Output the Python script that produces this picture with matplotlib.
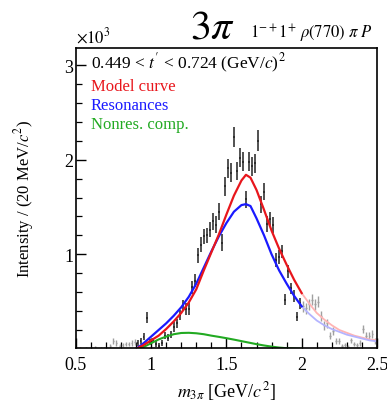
import numpy as np
import matplotlib
matplotlib.use("Agg")
import matplotlib.pyplot as plt

plt.rcParams['font.family'] = ['Liberation Serif', 'DejaVu Serif']
plt.rcParams['mathtext.fontset'] = 'stix'

# data points inside the fit range (GeV/c^2, x10^3 per 20 MeV)
mass_fit = [0.91, 0.93, 0.95, 0.97, 0.99, 1.01, 1.03, 1.05, 1.07, 1.09,
            1.11, 1.13, 1.15, 1.17, 1.19, 1.21, 1.23, 1.25, 1.27, 1.29,
            1.31, 1.33, 1.35, 1.37, 1.39, 1.41, 1.43, 1.45, 1.47, 1.49,
            1.51, 1.53, 1.55, 1.57, 1.59, 1.61, 1.63, 1.65, 1.67, 1.69,
            1.71, 1.73, 1.75, 1.77, 1.79, 1.81, 1.83, 1.85, 1.87, 1.89,
            1.91, 1.93, 1.95, 1.97, 1.99]
val_fit = [0.06, 0.08, 0.13, 0.33, 0.07, 0.09, 0.05, 0.03, 0.06, 0.14,
           0.12, 0.15, 0.23, 0.27, 0.36, 0.46, 0.42, 0.42, 0.65, 0.72,
           0.99, 1.10, 1.19, 1.20, 1.26, 1.35, 1.31, 1.45, 1.12, 1.72,
           1.91, 1.86, 2.24, 1.88, 2.02, 1.98, 1.58, 1.98, 1.93, 1.96,
           2.20, 1.53, 1.66, 1.32, 1.37, 1.31, 0.94, 0.97, 1.03, 0.52,
           0.82, 0.64, 0.56, 0.34, 0.48]
err_fit = [0.03, 0.03, 0.04, 0.06, 0.03, 0.03, 0.03, 0.03, 0.03, 0.04,
           0.04, 0.04, 0.05, 0.05, 0.05, 0.06, 0.06, 0.06, 0.07, 0.07,
           0.08, 0.08, 0.08, 0.08, 0.08, 0.09, 0.09, 0.09, 0.09, 0.10,
           0.10, 0.10, 0.11, 0.10, 0.10, 0.10, 0.09, 0.10, 0.10, 0.10,
           0.11, 0.09, 0.09, 0.08, 0.08, 0.08, 0.07, 0.07, 0.07, 0.06,
           0.07, 0.06, 0.06, 0.05, 0.06]

# data points outside the fit range
mass_out = [0.51, 0.53, 0.55, 0.57, 0.59, 0.61, 0.63, 0.65, 0.67, 0.69,
            0.71, 0.73, 0.75, 0.77, 0.79, 0.81, 0.83, 0.85, 0.87, 0.89,
            2.01, 2.03, 2.05, 2.07, 2.09, 2.11, 2.13, 2.15, 2.17, 2.19,
            2.21, 2.23, 2.25, 2.27, 2.29, 2.31, 2.33, 2.35, 2.37, 2.39,
            2.41, 2.43, 2.45, 2.47, 2.49]
val_out = [0.00, 0.01, 0.00, 0.01, 0.00, 0.01, 0.02, 0.00, 0.01, 0.01,
           0.01, 0.03, 0.08, 0.06, 0.03, 0.04, 0.05, 0.05, 0.06, 0.07,
           0.45, 0.43, 0.47, 0.52, 0.47, 0.50, 0.35, 0.25, 0.27, 0.14,
           0.19, 0.08, 0.08, 0.03, 0.04, 0.02, 0.09, 0.05, 0.04, 0.06,
           0.21, 0.14, 0.14, 0.16, 0.08]
err_out = [0.01, 0.01, 0.01, 0.01, 0.01, 0.01, 0.01, 0.01, 0.01, 0.01,
           0.01, 0.02, 0.03, 0.03, 0.02, 0.02, 0.02, 0.02, 0.03, 0.03,
           0.06, 0.06, 0.06, 0.06, 0.06, 0.06, 0.05, 0.05, 0.05, 0.04,
           0.04, 0.03, 0.03, 0.02, 0.02, 0.02, 0.03, 0.02, 0.02, 0.03,
           0.04, 0.04, 0.04, 0.04, 0.03]

# curves
curve_mass = [0.90, 0.95, 1.00, 1.05, 1.10, 1.15, 1.20, 1.25, 1.30, 1.35,
              1.40, 1.45, 1.50, 1.55, 1.60, 1.63, 1.66, 1.70, 1.75, 1.80,
              1.85, 1.90, 1.95, 2.00, 2.05, 2.10, 2.15, 2.20, 2.25, 2.30,
              2.35, 2.40, 2.45, 2.50]
model = [0.00, 0.04, 0.09, 0.14, 0.21, 0.29, 0.38, 0.49, 0.63, 0.83,
         1.02, 1.21, 1.42, 1.62, 1.78, 1.84, 1.81, 1.68, 1.47, 1.25,
         1.06, 0.89, 0.73, 0.59, 0.48, 0.38, 0.31, 0.25, 0.20, 0.17,
         0.14, 0.12, 0.10, 0.09]
resonances = [0.00, 0.06, 0.13, 0.20, 0.27, 0.35, 0.44, 0.55, 0.69, 0.86,
              1.03, 1.19, 1.33, 1.45, 1.52, 1.53, 1.51, 1.38, 1.20, 1.00,
              0.83, 0.69, 0.56, 0.45, 0.37, 0.30, 0.25, 0.21, 0.18, 0.15,
              0.13, 0.11, 0.09, 0.08]
nonres_mass = [0.90, 0.95, 1.00, 1.05, 1.10, 1.15, 1.20, 1.25, 1.30, 1.35,
               1.40, 1.45, 1.50, 1.55, 1.60, 1.65, 1.70, 1.75, 1.80, 1.85,
               1.90, 1.95, 2.00]
nonres = [0.00, 0.02, 0.06, 0.10, 0.13, 0.155, 0.168, 0.17, 0.165, 0.155,
          0.14, 0.127, 0.113, 0.098, 0.082, 0.066, 0.05, 0.036, 0.024, 0.014,
          0.007, 0.003, 0.001]

fit_max = 2.0

fig = plt.figure(figsize=(3.87, 4.02), dpi=100)
ax = fig.add_axes([0.196, 0.132, 0.778, 0.746])

# data
ax.errorbar(mass_out, val_out, yerr=err_out, xerr=0.006, fmt='none',
            ecolor='#a0a0a0', elinewidth=1.0, capsize=0)
ax.errorbar(mass_fit, val_fit, yerr=err_fit, xerr=0.006, fmt='none',
            ecolor='#222222', elinewidth=1.1, capsize=0)

cm = np.array(curve_mass)
inside = cm <= fit_max + 1e-9
outside = cm >= fit_max - 1e-9
ax.plot(cm[outside], np.array(model)[outside], color='#ffb4b4', lw=1.3)
ax.plot(cm[outside], np.array(resonances)[outside], color='#b4b4ff', lw=1.3)
ax.plot(nonres_mass, nonres, color='#22aa22', lw=1.5)
ax.plot(cm[inside], np.array(resonances)[inside], color='#1a1aff', lw=1.6)
ax.plot(cm[inside], np.array(model)[inside], color='#e8161c', lw=1.6)

ax.set_xlim(0.5, 2.5)
ax.set_ylim(0.01, 3.18)
ax.set_xticks([0.5, 1, 1.5, 2, 2.5])
ax.set_xticklabels(['0.5', '1', '1.5', '2', '2.5'])
ax.set_xticks(np.arange(0.6, 2.5, 0.1), minor=True)
ax.set_yticks([1, 2, 3])
ax.set_yticklabels(['1', '2', '3'])
ax.set_yticks(np.arange(0.2, 3.1, 0.2), minor=True)
ax.tick_params(which='both', direction='in', top=False, right=False,
               labelsize=13)
ax.tick_params(which='major', length=7, width=1.0)
ax.tick_params(which='minor', length=4, width=0.9)
ax.tick_params(axis='x', pad=6)
ax.tick_params(axis='y', pad=2)
for s in ax.spines.values():
    s.set_linewidth(1.2)

ax.set_xlabel(r'$m_{3\pi}$ [GeV/$c^2$]', fontsize=13, labelpad=4)
ax.set_ylabel(r'Intensity / (20 MeV/$c^2$)', fontsize=12, labelpad=20)

ax.text(0.05, 0.99, r"0.449 < $t^{\prime}$ < 0.724 (GeV/$c$)$^2$",
        transform=ax.transAxes, fontsize=12.5, va='top', ha='left')
ax.text(0.05, 0.90, 'Model curve', color='#e8161c', transform=ax.transAxes,
        fontsize=12, va='top')
ax.text(0.05, 0.837, 'Resonances', color='#1a1aff', transform=ax.transAxes,
        fontsize=12, va='top')
ax.text(0.05, 0.772, 'Nonres. comp.', color='#22aa22', transform=ax.transAxes,
        fontsize=12, va='top')

fig.text(0.196, 0.883, r'$\times 10^3$', fontsize=12, ha='left', va='bottom')
fig.text(0.49, 0.905, r'$3\pi$', fontsize=30, ha='left', va='baseline')
fig.text(0.645, 0.905, r'$1^{-+}1^{+}\ \rho(770)\ \pi\ P$', fontsize=12,
         ha='left', va='baseline')

fig.savefig('out.png', dpi=100)
